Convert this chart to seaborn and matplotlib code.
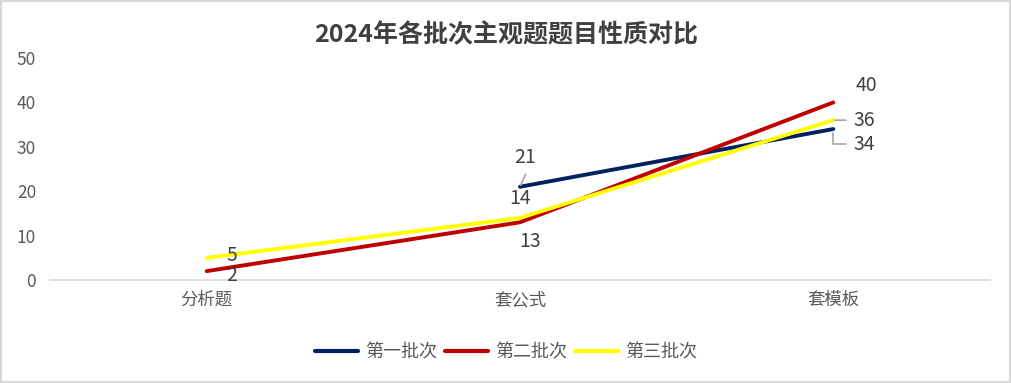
import numpy as np
import pandas as pd
import matplotlib
matplotlib.use("Agg")
import matplotlib.pyplot as plt
import seaborn as sns

categories = ["分析题", "套公式", "套模板"]
series_names = ["第一批次", "第二批次", "第三批次"]
batch1 = [np.nan, 21, 34]
batch2 = [2, 13, 40]
batch3 = [5, 14, 36]
colors = ["#002060", "#C00000", "#FFFF00"]
title = "2024年各批次主观题题目性质对比"

sns.set_theme(style="white")
plt.rcParams["font.family"] = ["Noto Sans CJK SC", "DejaVu Sans"]

rows = []
for name, vals in zip(series_names, [batch1, batch2, batch3]):
    for i, v in enumerate(vals):
        rows.append({"x": i, "value": v, "series": name})
df = pd.DataFrame(rows).dropna()

fig = plt.figure(figsize=(10.11, 3.83), dpi=100)
ax = fig.add_axes([50/1011, 1-280/383, 940/1011, (280-58)/383])

sns.lineplot(data=df, x="x", y="value", hue="series", hue_order=series_names,
             palette=colors, linewidth=2.8, ax=ax, legend=False, sort=False,
             solid_capstyle="round")

ax.set_xlim(-0.5, 2.5)
ax.set_ylim(0, 50)
ax.set_yticks([0, 10, 20, 30, 40, 50])
ax.set_xticks(range(len(categories)))
ax.set_xticklabels(categories)
ax.set_xlabel("")
ax.set_ylabel("")
for s in ["top", "right", "left"]:
    ax.spines[s].set_visible(False)
ax.spines["bottom"].set_color("#d9d9d9")
ax.spines["bottom"].set_linewidth(1.2)
ax.tick_params(axis="both", length=0, labelsize=12.5, colors="#595959")
ax.tick_params(axis="y", pad=10)
ax.tick_params(axis="x", pad=8)
ax.grid(False)

# data labels (offsets in points)
lab_color = "#404040"
fs = 14
def lab(i, v, dx, dy):
    ax.annotate(f"{v:g}", (i, v), xytext=(dx, dy), textcoords="offset points",
                ha="center", va="center", fontsize=fs, color=lab_color)

lab(0, batch3[0], 18, 2)
lab(0, batch2[0], 18, -3)
lab(1, batch1[1], 4, 21)
lab(1, batch3[1], 0, 14)
lab(1, batch2[1], 7, -14)
lab(2, batch2[2], 24, 12)
lab(2, batch3[2], 22, 0)
lab(2, batch1[2], 22, -11)

# leader lines
ax.annotate("", xy=(1.0, 21), xytext=(4, 9), textcoords="offset points",
            arrowprops=dict(arrowstyle="-", color="#a6a6a6", lw=1.2, shrinkA=0, shrinkB=1))
ax.annotate("", xy=(2.0, 36), xytext=(9, 0), textcoords="offset points",
            arrowprops=dict(arrowstyle="-", color="#a6a6a6", lw=1.2, shrinkA=0, shrinkB=1))
ax.annotate("", xy=(2.0, 34), xytext=(9, -11), textcoords="offset points",
            arrowprops=dict(arrowstyle="-", color="#a6a6a6", lw=1.2, shrinkA=0, shrinkB=3,
                            connectionstyle="angle,angleA=0,angleB=90,rad=0"))

fig.text(506/1011, 1-35/383, title, ha="center", va="center", fontsize=18,
         fontweight="bold", color="#404040")

from matplotlib.lines import Line2D
handles = [Line2D([0], [0], color=c, lw=3, solid_capstyle="round") for c in colors]
leg = fig.legend(handles, series_names, loc="center", bbox_to_anchor=(506/1011, 1-352/383),
                 ncol=3, frameon=False, fontsize=13, handlelength=2.4, handletextpad=0.4,
                 columnspacing=0.4)
for t in leg.get_texts():
    t.set_color("#595959")

# figure border
fig.patches.append(plt.Rectangle((0.001, 0.002), 0.998, 0.996, transform=fig.transFigure,
                                 fill=False, edgecolor="#d9d9d9", linewidth=1.5))

fig.savefig("out.png", dpi=100)
